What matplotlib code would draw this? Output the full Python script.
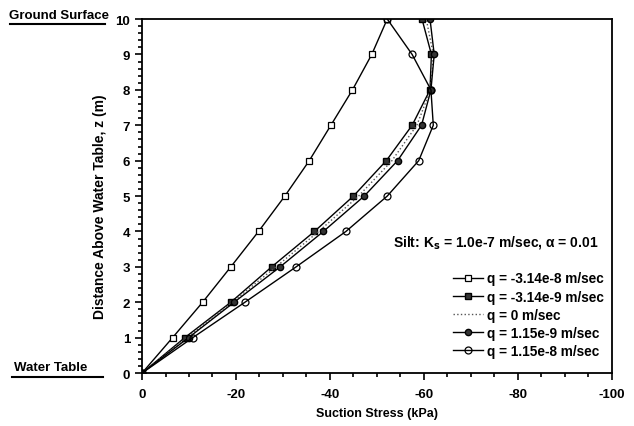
import matplotlib.pyplot as plt
from matplotlib.lines import Line2D
from matplotlib.ticker import MultipleLocator

plt.rcParams['font.family'] = ['Liberation Sans', 'DejaVu Sans']
plt.rcParams['font.weight'] = 'bold'
plt.rcParams['axes.unicode_minus'] = False

# height above water table (m)
z = [0, 1, 2, 3, 4, 5, 6, 7, 8, 9, 10]

# suction stress (kPa) for each flux rate
ss_q1 = [0, -6.5, -12.9, -18.9, -24.8, -30.4, -35.6, -40.2, -44.8, -48.9, -52.2]
ss_q2 = [0, -9.1, -18.9, -27.6, -36.7, -45.0, -52.0, -57.5, -61.3, -61.6, -59.6]
ss_q3 = [0, -9.5, -19.2, -28.5, -37.6, -46.1, -53.2, -58.5, -61.4, -62.0, -60.5]
ss_q4 = [0, -9.9, -19.6, -29.4, -38.6, -47.3, -54.4, -59.5, -61.5, -62.2, -61.3]
ss_q5 = [0, -10.8, -21.9, -32.8, -43.4, -52.2, -58.9, -62.0, -61.5, -57.5, -52.2]

labels = ['q = -3.14e-8 m/sec', 'q = -3.14e-9 m/sec', 'q = 0 m/sec',
          'q = 1.15e-9 m/sec', 'q = 1.15e-8 m/sec']

fig = plt.figure(figsize=(6.34, 4.27), dpi=100)
ax = fig.add_axes([0.224, 0.124, 0.741, 0.829])

ax.plot(ss_q1, z, color='black', lw=1, marker='s', ms=4.5, mfc='white', mec='black', mew=0.9, label=labels[0])
ax.plot(ss_q2, z, color='black', lw=1, marker='s', ms=4, mfc='#333333', mec='black', label=labels[1])
ax.plot(ss_q3, z, color='#555555', lw=1, ls=':', label=labels[2])
ax.plot(ss_q4, z, color='black', lw=1, marker='o', ms=4.5, mfc='#333333', mec='black', label=labels[3])
ax.plot(ss_q5, z, color='black', lw=1, marker='o', ms=5, mfc='none', mec='black', mew=0.9, label=labels[4])

ax.set_xlim(0, -100)
ax.set_ylim(0, 10)
ax.xaxis.set_major_locator(MultipleLocator(20))
ax.xaxis.set_minor_locator(MultipleLocator(5))
ax.yaxis.set_major_locator(MultipleLocator(1))
ax.yaxis.set_minor_locator(MultipleLocator(0.2))
ax.tick_params(which='both', direction='out', top=False, right=False, width=1.2, labelsize=9.5)
ax.tick_params(which='major', length=5)
ax.tick_params(which='minor', length=3)
ax.tick_params(axis='x', pad=6)
for s in ax.spines.values():
    s.set_linewidth(1.3)

ax.set_xlabel('Suction Stress (kPa)', fontsize=9, fontweight='bold', labelpad=5)
ax.set_ylabel('Distance Above Water Table, z (m)', fontsize=10, fontweight='bold')
ax.yaxis.set_label_coords(-0.074, 0.472)

ax.text(0.535, 0.372, 'Silt: K$_\\mathbf{s}$ = 1.0e-7 m/sec, \u03b1 = 0.01', transform=ax.transAxes,
        fontsize=10, fontweight='bold', va='center')

ax.legend(loc='lower right', bbox_to_anchor=(1.0, 0.02), frameon=False, fontsize=9.8,
          handlelength=2.2, labelspacing=0.3, handletextpad=0.3, borderaxespad=0.2)

fig.text(0.093, 0.963, 'Ground Surface', fontsize=9.5, fontweight='bold', ha='center', va='center')
fig.add_artist(Line2D([0.016, 0.166], [0.941, 0.941], color='black', lw=1.5))
fig.text(0.080, 0.139, 'Water Table', fontsize=9.5, fontweight='bold', ha='center', va='center')
fig.add_artist(Line2D([0.019, 0.162], [0.115, 0.115], color='black', lw=1.5))

fig.savefig('out.png', dpi=100)
